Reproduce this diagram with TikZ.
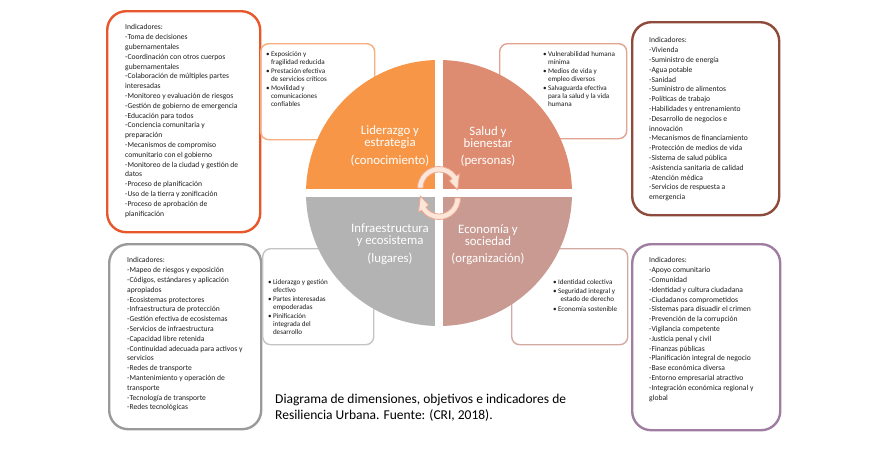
\documentclass[tikz,border=0pt]{standalone}
\usepackage{fontspec}
\setmainfont{Carlito}
\definecolor{qTL}{HTML}{F79646}
\definecolor{qTR}{HTML}{DE8C71}
\definecolor{qBL}{HTML}{B3B3B3}
\definecolor{qBR}{HTML}{C99A92}
\definecolor{bTL}{HTML}{E8572B}
\definecolor{bTR}{HTML}{8E4A3B}
\definecolor{bBL}{HTML}{9A9A9A}
\definecolor{bBR}{HTML}{A07EA2}
\definecolor{sTL}{HTML}{F7AE7C}
\definecolor{sTR}{HTML}{E2A48E}
\definecolor{sBL}{HTML}{C4C4C4}
\definecolor{sBR}{HTML}{D3AAA1}
\definecolor{arrfill}{HTML}{FCE6DA}
\definecolor{arrline}{HTML}{EDA98E}
\definecolor{txt}{HTML}{1E1E1E}
\newcommand{\bul}{\makebox[4.8pt][l]{\textbullet}}
\newcommand{\ind}{\hspace*{4.8pt}}
\tikzset{
  bigbox/.style={draw, line width=2.4pt, rounded corners=19pt, anchor=north west, inner sep=0pt},
  smallbox/.style={draw, line width=1.4pt, rounded corners=8pt, anchor=north west, inner sep=0pt},
  indtext/.style={font=\fontsize{7.6}{9.8}\selectfont, align=left, anchor=north west, inner sep=0pt, text=txt},
  bultext/.style={font=\fontsize{7.1}{8}\selectfont, align=left, anchor=north west, inner sep=0pt, text=txt},
  qtitle/.style={font=\fontsize{12.8}{12.5}\selectfont, align=center, text=white, inner sep=0pt},
  arrowshape/.style={fill=arrfill, draw=arrline, line width=0.8pt, line join=round}
}
\begin{document}
\begin{tikzpicture}[x=1pt,y=1pt]
\useasboundingbox (0,0) rectangle (885,-461);
\fill[white] (0,0) rectangle (885,-461);

% big boxes
\node[bigbox, draw=bTL, minimum width=153pt, minimum height=221pt] (tlbig) at (106,-10) {};
\node[bigbox, draw=bTR, minimum width=147pt, minimum height=193pt] (trbig) at (631,-21) {};
\node[bigbox, draw=bBL, minimum width=152pt, minimum height=185pt] (blbig) at (108,-243) {};
\node[bigbox, draw=bBR, minimum width=148pt, minimum height=186pt] (brbig) at (631,-243) {};

% small boxes
\node[smallbox, draw=sTL, minimum width=114pt, minimum height=96pt] (tlsmall) at (260,-43) {};
\node[smallbox, draw=sTR, minimum width=127pt, minimum height=95pt] (trsmall) at (499,-43) {};
\node[smallbox, draw=sBL, minimum width=111pt, minimum height=96pt] (blsmall) at (262,-248) {};
\node[smallbox, draw=sBR, minimum width=116pt, minimum height=96pt] (brsmall) at (511,-248) {};

% circle quadrants
\coordinate (c) at (439,-193);
\fill[qTL] (c) -- ++(-133,0) arc[start angle=180, end angle=90, radius=133] -- cycle;
\fill[qTR] (c) -- ++(0,133) arc[start angle=90, end angle=0, radius=133] -- cycle;
\fill[qBR] (c) -- ++(133,0) arc[start angle=0, end angle=-90, radius=133] -- cycle;
\fill[qBL] (c) -- ++(0,-133) arc[start angle=-90, end angle=-180, radius=133] -- cycle;
\begin{scope}
\clip (c) circle[radius=133.5];
\fill[white] (435,-55) rectangle (443,-331);
\fill[white] (300,-189) rectangle (580,-197);
\end{scope}

% circular arrows
\begin{scope}[shift={(439,-188)}]
\coordinate (tarr) at (0,0);
\draw[arrowshape] (180:16) -- (180:21.5) arc[start angle=180, end angle=35, radius=21.5]
  -- (35:25) -- (-6:18.7) -- (35:12.5) -- (35:16)
  arc[start angle=35, end angle=180, radius=16] -- cycle;
\end{scope}
\begin{scope}[shift={(439,-198)}]
\coordinate (barr) at (0,0);
\draw[arrowshape] (0:16) -- (0:21.5) arc[start angle=0, end angle=-145, radius=21.5]
  -- (-145:25) -- (-186:18.7) -- (-145:12.5) -- (-145:16)
  arc[start angle=-145, end angle=0, radius=16] -- cycle;
\end{scope}

% quadrant titles
\node[qtitle] (q1) at (390,-137) {Liderazgo y\\estrategia};
\node[qtitle] (q1s) at (390,-161) {(conocimiento)};
\node[qtitle] (q2) at (488,-137) {Salud y\\bienestar};
\node[qtitle] (q2s) at (488,-161) {(personas)};
\node[qtitle] (q3) at (390,-235) {Infraestructura\\y ecosistema};
\node[qtitle] (q3s) at (390,-259) {(lugares)};
\node[qtitle] (q4) at (488,-235) {Economía y\\sociedad};
\node[qtitle] (q4s) at (488,-259) {(organización)};

% indicator texts
\node[indtext] (tltext) at (125,-24.5) {Indicadores:\\-Toma de decisiones\\gubernamentales\\-Coordinación con otros cuerpos\\gubernamentales\\-Colaboración de múltiples partes\\interesadas\\-Monitoreo y evaluación de riesgos\\-Gestión de gobierno de emergencia\\-Educación para todos\\-Conciencia comunitaria y\\preparación\\-Mecanismos de compromiso\\comunitario con el gobierno\\-Monitoreo de la ciudad y gestión de\\datos\\-Proceso de planificación\\-Uso de la tierra y zonificación\\-Proceso de aprobación de\\planificación};
\node[indtext] (trtext) at (649,-37.5) {Indicadores:\\-Vivienda\\-Suministro de energía\\-Agua potable\\-Sanidad\\-Suministro de alimentos\\-Políticas de trabajo\\-Habilidades y entrenamiento\\-Desarrollo de negocios e\\innovación\\-Mecanismos de financiamiento\\-Protección de medios de vida\\-Sistema de salud pública\\-Asistencia sanitaria de calidad\\-Atención médica\\-Servicios de respuesta a\\emergencia};
\node[indtext] (bltext) at (127,-257.5) {Indicadores:\\-Mapeo de riesgos y exposición\\-Códigos, estándares y aplicación\\apropiados\\-Ecosistemas protectores\\-Infraestructura de protección\\-Gestión efectiva de ecosistemas\\-Servicios de infraestructura\\-Capacidad libre retenida\\-Continuidad adecuada para activos y\\servicios\\-Redes de transporte\\-Mantenimiento y operación de\\transporte\\-Tecnología de transporte\\-Redes tecnológicas};
\node[indtext] (brtext) at (649,-257.5) {Indicadores:\\-Apoyo comunitario\\-Comunidad\\-Identidad y cultura ciudadana\\-Ciudadanos comprometidos\\-Sistemas para disuadir el crimen\\-Prevención de la corrupción\\-Vigilancia competente\\-Justicia penal y civil\\-Finanzas públicas\\-Planificación integral de negocio\\-Base económica diversa\\-Entorno empresarial atractivo\\-Integración económica regional y\\global};

% bullet texts
\node[bultext] (tlbul) at (266,-51.5) {\bul Exposición y\\\ind fragilidad reducida\\[1pt]\bul Prestación efectiva\\\ind de servicios críticos\\[1pt]\bul Movilidad y\\\ind comunicaciones\\\ind confiables};
\node[bultext] (trbul) at (543,-51.5) {\bul Vulnerabilidad humana\\\ind mínima\\[1pt]\bul Medios de vida y\\\ind empleo diversos\\[1pt]\bul Salvaguarda efectiva\\\ind para la salud y la vida\\\ind humana};
\node[bultext] (blbul) at (268,-279.5) {\bul Liderazgo y gestión\\\ind efectivo\\[1pt]\bul Partes interesadas\\\ind empoderadas\\[1pt]\bul Pinificación\\\ind integrada del\\\ind desarrollo};
\node[bultext] (brbul) at (553,-279.5) {\bul Identidad colectiva\\[1pt]\bul Seguridad integral y\\\ind\hspace*{1pt} estado de derecho\\[2pt]\bul Economía sostenible};

% caption
\node[font=\fontsize{13.5}{16}\selectfont, align=left, anchor=north west, inner sep=0pt, text=black] (caption) at (275,-393.5) {Diagrama de dimensiones, objetivos e indicadores de\\Resiliencia Urbana. Fuente: (CRI, 2018).};
\end{tikzpicture}
\end{document}
